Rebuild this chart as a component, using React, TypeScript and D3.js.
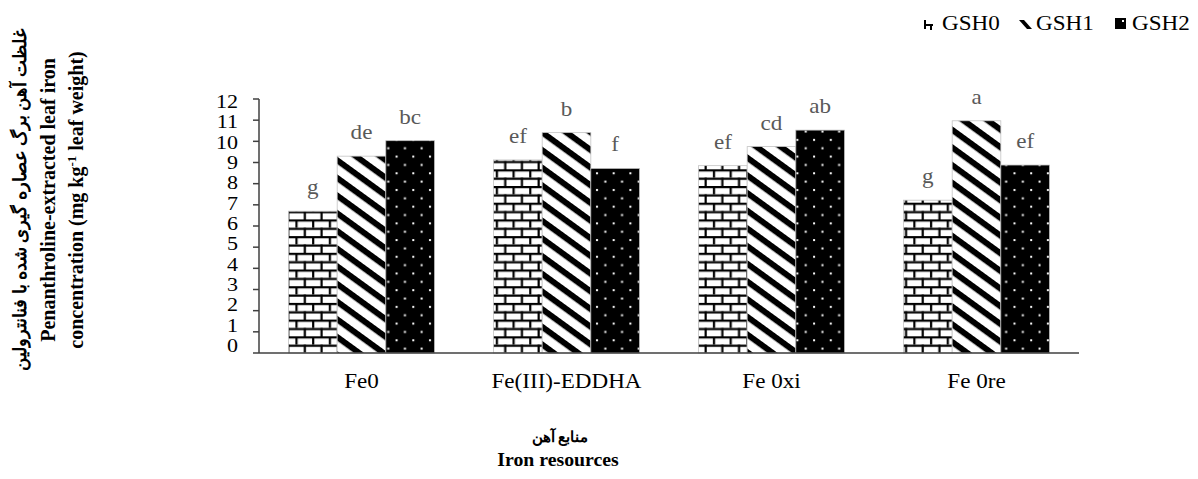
import React from "react";
import * as d3 from "d3";

const categories = ["Fe0", "Fe(III)-EDDHA", "Fe 0xi", "Fe 0re"];
const seriesNames = ["GSH0", "GSH1", "GSH2"];
const gsh0 = [6.7, 9.12, 8.85, 7.22];
const gsh1 = [9.3, 10.41, 9.75, 10.97];
const gsh2 = [10.03, 8.72, 10.53, 8.88];
const letters0 = ["g", "ef", "ef", "g"];
const letters1 = ["de", "b", "cd", "a"];
const letters2 = ["bc", "f", "ab", "ef"];
const yTicks = [0, 1, 2, 3, 4, 5, 6, 7, 8, 9, 10, 11, 12];

const W = 1198;
const H = 479;
const left = 259;
const right = 1079;
const top = 99;
const bottom = 353;

const serif = "'Liberation Serif', 'Times New Roman', serif";
const SX = 1.1;

function T(props: {
  x: number;
  y: number;
  size: number;
  anchor?: "start" | "middle" | "end";
  fill?: string;
  bold?: boolean;
  sx?: number;
  children: React.ReactNode;
}) {
  const { x, y, size, anchor = "start", fill = "#000", bold = false, sx = SX, children } = props;
  return (
    <text
      transform={`translate(${x},${y}) scale(${sx},1)`}
      textAnchor={anchor}
      fontFamily={serif}
      fontSize={size}
      fontWeight={bold ? "bold" : "normal"}
      fill={fill}
    >
      {children}
    </text>
  );
}

export default function App() {
  const values = [gsh0, gsh1, gsh2];
  const letters = [letters0, letters1, letters2];
  const x0 = d3.scaleBand<string>().domain(categories).range([left, right]).paddingInner(0.288).paddingOuter(0.144);
  const x1 = d3.scaleBand<string>().domain(seriesNames).range([0, x0.bandwidth()]);
  const y = d3.scaleLinear().domain([0, 12]).range([bottom, top]);
  const yLabel = d3.scaleLinear().domain([0, 12]).range([352, 107.8]);
  const fills = ["url(#brick)", "url(#diag)", "url(#dots)"];

  const legendItems = [
    { sx: 924, tx: 942 },
    { sx: 1019, tx: 1036 },
    { sx: 1115, tx: 1132 },
  ];

  return (
    <svg width={W} height={H} style={{ position: "absolute", left: 0, top: 0, background: "#fff" }}>
      <defs>
        <pattern id="brick" patternUnits="userSpaceOnUse" width={16.7} height={16.7} x={left} y={bottom}>
          <rect width={16.7} height={16.7} fill="#fff" />
          <rect x={0} y={0} width={16.7} height={2.2} fill="#000" />
          <rect x={0} y={8.35} width={16.7} height={2.2} fill="#000" />
          <rect x={3} y={0} width={2.2} height={8.35} fill="#000" />
          <rect x={11.35} y={8.35} width={2.2} height={8.35} fill="#000" />
        </pattern>
        <pattern id="diag" patternUnits="userSpaceOnUse" width={14.3} height={14.3} patternTransform="rotate(36)">
          <rect width={14.3} height={14.3} fill="#fff" />
          <rect x={0} y={0} width={14.3} height={6} fill="#000" />
        </pattern>
        <pattern id="dots" patternUnits="userSpaceOnUse" width={16.7} height={16.7} x={left} y={bottom}>
          <rect width={16.7} height={16.7} fill="#000" />
          <rect x={3} y={3} width={2} height={2} fill="#fff" />
          <rect x={11.35} y={11.35} width={2} height={2} fill="#fff" />
        </pattern>
      </defs>

      {/* Legend */}
      {legendItems.map((it, i) => (
        <g key={seriesNames[i]}>
          {i === 0 && (
            <g>
              <rect x={it.sx} y={20} width={2} height={9} fill="#000" />
              <rect x={it.sx} y={24} width={9} height={2} fill="#000" />
              <rect x={it.sx + 6} y={24} width={2} height={6} fill="#000" />
            </g>
          )}
          {i === 1 && <path d={`M${it.sx},${20} L${it.sx + 5},${20} L${it.sx + 13},${29} L${it.sx + 8},${29} Z`} fill="#000" />}
          {i === 2 && (
            <g>
              <rect x={it.sx} y={18} width={11} height={11} fill="#000" />
              <rect x={it.sx + 7} y={20} width={2} height={2} fill="#fff" />
            </g>
          )}
          <T x={it.tx} y={30} size={21}>{seriesNames[i]}</T>
        </g>
      ))}

      {/* Bars */}
      {categories.map((c, ci) => (
        <g key={c}>
          {seriesNames.map((s, si) => {
            const v = values[si][ci];
            const bx = (x0(c) as number) + (x1(s) as number);
            const bw = x1.bandwidth();
            return (
              <g key={s}>
                <rect x={bx} y={y(v)} width={bw} height={bottom - y(v)} fill={fills[si]} stroke="#bfbfbf" strokeWidth={0.75} />
                <T x={bx + bw / 2} y={y(v) - 17} size={21} anchor="middle" fill="#595959">
                  {letters[si][ci]}
                </T>
              </g>
            );
          })}
        </g>
      ))}

      {/* Y axis */}
      <line x1={left} x2={left} y1={top} y2={bottom} stroke="#404040" strokeWidth={1.5} />
      {yTicks.map((t) => (
        <g key={t}>
          <line x1={left - 6} x2={left} y1={y(t)} y2={y(t)} stroke="#404040" strokeWidth={1.5} />
          <T x={238} y={yLabel(t)} size={19} sx={1.16} anchor="end">{t}</T>
        </g>
      ))}

      {/* X axis */}
      <line x1={left} x2={right} y1={bottom} y2={bottom} stroke="#404040" strokeWidth={1.5} />
      {categories.map((c) => (
        <T key={c} x={(x0(c) as number) + x0.bandwidth() / 2} y={388} size={21} anchor="middle">
          {c}
        </T>
      ))}

      {/* X title */}
      <text x={560} y={442} textAnchor="middle" fontFamily={serif} fontWeight="bold" fontSize={15} fill="#000">منابع آهن</text>
      <T x={558} y={466} size={18} anchor="middle" bold>Iron resources</T>

      {/* Y title */}
      <g transform="translate(0,200) rotate(-90)">
        <text x={0} y={26} textAnchor="middle" fontFamily={serif} fontWeight="bold" fontSize={17.5} fill="#000">
          غلظت آهن برگ عصاره گیری شده با فنانترولین
        </text>
        <text x={0} y={55} textAnchor="middle" fontFamily={serif} fontWeight="bold" fontSize={20} fill="#000">
          Penanthroline-extracted leaf iron
        </text>
        <text x={0} y={83} textAnchor="middle" fontFamily={serif} fontWeight="bold" fontSize={20} fill="#000">
          concentration (mg kg<tspan baselineShift="super" fontSize={13}>-1</tspan> leaf weight)
        </text>
      </g>
    </svg>
  );
}
